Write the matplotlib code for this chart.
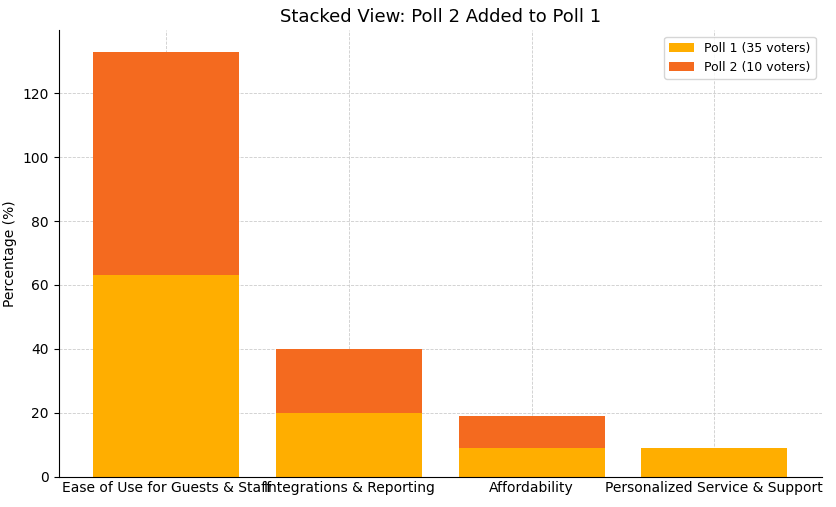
import matplotlib.pyplot as plt
import numpy as np

categories = ['Ease of Use for Guests & Staff', 'Integrations & Reporting',
              'Affordability', 'Personalized Service & Support']
poll1 = [63, 20, 9, 9]
poll2 = [70, 20, 10, 0]


def main():
    fig, ax = plt.subplots(figsize=(8.37, 5.07), dpi=100)
    x = np.arange(len(categories))
    ax.bar(x, poll1, width=0.8, color='#FFAE00', label='Poll 1 (35 voters)', zorder=2)
    ax.bar(x, poll2, width=0.8, bottom=poll1, color='#F46A1F',
           label='Poll 2 (10 voters)', zorder=2)

    ax.set_xticks(x)
    ax.set_xticklabels(categories, fontsize=10)
    ax.set_ylabel('Percentage (%)')
    ax.set_title('Stacked View: Poll 2 Added to Poll 1', fontsize=13)
    ax.set_ylim(0, 139.7)
    ax.grid(True, linestyle='--', linewidth=0.6, color='#cccccc', zorder=0)
    ax.spines['top'].set_visible(False)
    ax.spines['right'].set_visible(False)
    ax.tick_params(axis='x', length=0)
    ax.legend(loc='upper right', fontsize=9)

    plt.subplots_adjust(left=0.07, right=0.982, top=0.94, bottom=0.06)
    plt.savefig('out.png', dpi=100)
    plt.close()


if __name__ == '__main__':
    main()
